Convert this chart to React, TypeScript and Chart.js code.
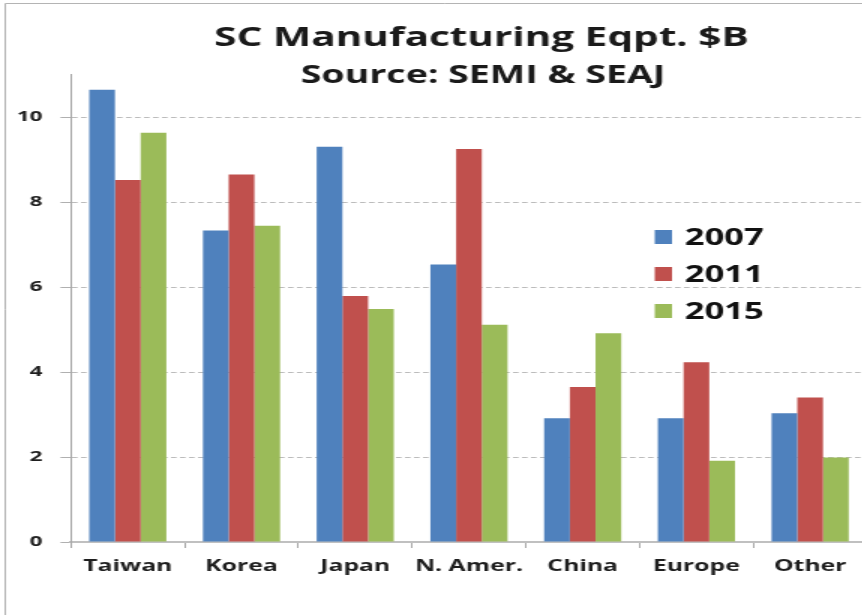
import React, { useEffect, useRef } from "react";
import { Chart, registerables } from "chart.js";

Chart.register(...registerables);

// Semiconductor manufacturing equipment spend by region, $B
const regions = ["Taiwan", "Korea", "Japan", "N. Amer.", "China", "Europe", "Other"];
const years = ["2007", "2011", "2015"];
const eqpt2007 = [10.64, 7.33, 9.3, 6.53, 2.91, 2.91, 3.03];
const eqpt2011 = [8.52, 8.65, 5.79, 9.25, 3.65, 4.23, 3.4];
const eqpt2015 = [9.63, 7.44, 5.48, 5.11, 4.91, 1.91, 1.99];
const yTicks = [0, 2, 4, 6, 8, 10];
const yMax = 11;
const titleLines = ["SC Manufacturing Eqpt. $B", "Source: SEMI & SEAJ"];
const seriesColors = ["#4F81BD", "#C0504D", "#9BBB59"];

// The canvas is drawn narrow and widened horizontally with CSS.
const STRETCH = 1.5;
const CANVAS_W = 590;
const CANVAS_H = 615;
const FONT = "'Open Sans', 'DejaVu Sans', sans-serif";

const framePlugin = {
  id: "frame",
  beforeDraw(chart: any) {
    const { ctx, width, height } = chart;
    ctx.save();
    ctx.fillStyle = "#ffffff";
    ctx.fillRect(0, 0, width, height);
    ctx.strokeStyle = "#b4b4b4";
    ctx.lineWidth = 1;
    ctx.beginPath();
    ctx.moveTo(3.5, height);
    ctx.lineTo(3.5, 3.5);
    ctx.lineTo(width, 3.5);
    ctx.stroke();
    ctx.restore();
  },
};

const titlePlugin = {
  id: "twoLineTitle",
  afterDraw(chart: any) {
    const { ctx } = chart;
    ctx.save();
    ctx.fillStyle = "#1a1a1a";
    ctx.textAlign = "center";
    ctx.textBaseline = "alphabetic";
    ctx.font = `bold 27px ${FONT}`;
    ctx.fillText(titleLines[0], 321, 46);
    ctx.font = `bold 25px ${FONT}`;
    ctx.fillText(titleLines[1], 322, 83);
    ctx.restore();
  },
};

const legendPlugin = {
  id: "insideLegend",
  afterDraw(chart: any) {
    const { ctx } = chart;
    ctx.save();
    ctx.font = `bold 23px ${FONT}`;
    ctx.textAlign = "left";
    ctx.textBaseline = "alphabetic";
    chart.data.datasets.forEach((ds: any, i: number) => {
      const base = 245 + i * 37;
      ctx.fillStyle = ds.backgroundColor;
      ctx.fillRect(436.5, base - 15, 11.5, 14);
      ctx.fillStyle = "#111111";
      ctx.fillText(ds.label, 456.5, base);
    });
    ctx.restore();
  },
};

export default function App() {
  const canvasRef = useRef<HTMLCanvasElement | null>(null);

  useEffect(() => {
    document.body.style.margin = "0";
    document.body.style.overflow = "hidden";
    const canvas = canvasRef.current;
    if (!canvas) return;

    const chart = new Chart(canvas, {
      type: "bar",
      data: {
        labels: regions,
        datasets: [eqpt2007, eqpt2011, eqpt2015].map((values, i) => ({
          label: years[i],
          data: values,
          backgroundColor: seriesColors[i],
          borderWidth: 0,
          categoryPercentage: 0.678,
          barPercentage: 1.0,
        })),
      },
      options: {
        responsive: false,
        animation: false,
        devicePixelRatio: 1,
        layout: { padding: { left: 0, top: 74.5, right: CANVAS_W - 578, bottom: 0 } },
        plugins: {
          legend: { display: false },
          title: { display: false },
          tooltip: { enabled: false },
        },
        scales: {
          x: {
            offset: true,
            grid: {
              display: true,
              offset: true,
              drawOnChartArea: false,
              drawTicks: true,
              tickLength: 6,
              tickColor: "#a8a8a8",
              tickWidth: 1,
            },
            border: { display: true, color: "#c0c0c0", width: 2 },
            ticks: {
              color: "#1e1e1e",
              font: { family: FONT, size: 16.5, weight: "bold" },
              padding: 8,
              maxRotation: 0,
              autoSkip: false,
            },
            afterFit(scale: any) {
              scale.height = CANVAS_H - 542;
            },
          },
          y: {
            min: 0,
            max: yMax,
            afterBuildTicks(scale: any) {
              scale.ticks = yTicks.map((v) => ({ value: v }));
            },
            grid: {
              color: "#bcbcbc",
              lineWidth: 1,
              drawTicks: true,
              tickLength: 7,
              tickColor: "#b0b0b0",
              tickBorderDash: [],
            },
            border: { display: true, color: "#a8a8a8", width: 1, dash: [3.7, 2.3] },
            ticks: {
              color: "#1e1e1e",
              font: { family: FONT, size: 15, weight: "bold" },
              padding: 12,
            },
            afterFit(scale: any) {
              scale.width = 47.3;
            },
          },
        },
      },
      plugins: [framePlugin, titlePlugin, legendPlugin],
    });

    return () => chart.destroy();
  }, []);

  return (
    <div style={{ width: 862, height: CANVAS_H, overflow: "hidden", position: "relative" }}>
      <canvas
        ref={canvasRef}
        width={CANVAS_W}
        height={CANVAS_H}
        style={{
          display: "block",
          width: `${CANVAS_W}px`,
          height: `${CANVAS_H}px`,
          transform: `scaleX(${STRETCH})`,
          transformOrigin: "0 0",
        }}
      />
    </div>
  );
}
